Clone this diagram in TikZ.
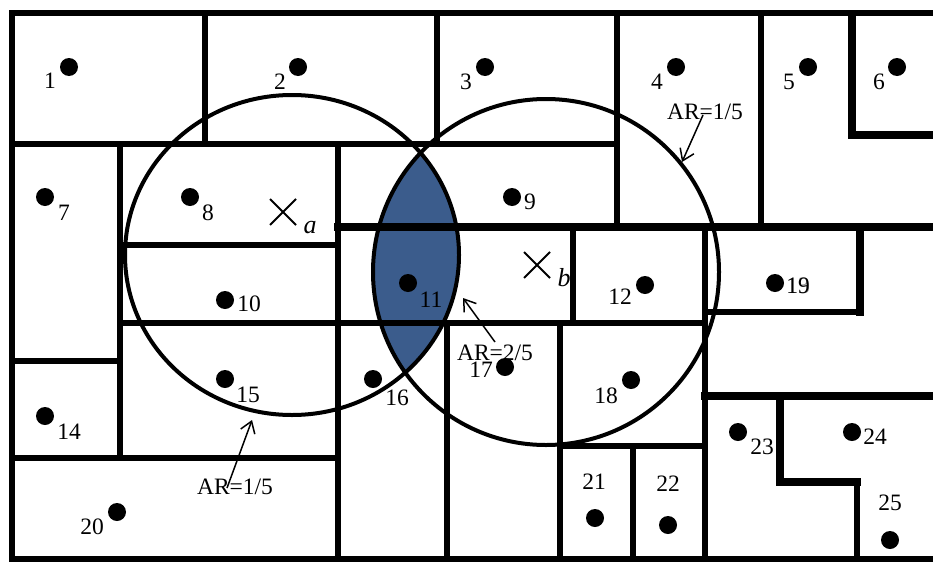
\documentclass[tikz,border=0pt]{standalone}
\usepackage{fontspec}
\setmainfont{Liberation Serif}
\usetikzlibrary{arrows.meta, shapes.misc}
\definecolor{lensblue}{RGB}{59,92,140}

\begin{document}
\begin{tikzpicture}[
        x=1pt, y=-1pt,
        wall/.style={line width=5.5pt, line cap=rect},
        heavywall/.style={line width=8pt, line cap=rect},
        rangeline/.style={line width=4pt},
        site/.style={circle, fill=black, inner sep=0pt, minimum size=18pt},
        num/.style={inner sep=0pt, font=\fontsize{23.5}{25}\selectfont},
        centremark/.style={cross out, draw, line width=2pt, minimum size=24pt, inner sep=0pt},
        arrow/.style={-{Straight Barb[length=11pt, width=15pt]}, line width=1.5pt}
    ]
        \useasboundingbox (0,0) rectangle (933,562);

        % Overlap of the two ranges
        \begin{scope}
            \clip (292,255) ellipse [x radius=167pt, y radius=160pt];
            \fill[lensblue] (546,272) circle [radius=173pt];
        \end{scope}

        % Walls
        \draw[wall] (933,13) -- (12,13) -- (12,559) -- (933,559);
        \draw[wall] (12,144) -- (617,144);
        \draw[wall] (205,13) -- (205,144) (437,13) -- (437,144);
        \draw[wall] (617,13) -- (617,227) (761,13) -- (761,227);
        \draw[heavywall] (852,17) -- (852,135) -- (933,135);
        \draw[heavywall] (338,227) -- (933,227);
        \draw[wall] (120,144) -- (120,458) (338,144) -- (338,559);
        \draw[wall] (120,245) -- (338,245);
        \draw[wall] (12,361) -- (120,361) (12,458) -- (338,458);
        \draw[wall, line width=6.5pt] (120,323) -- (705,323);
        \draw[wall] (573,227) -- (573,323);
        \draw[wall] (705,227) -- (705,559);
        \draw[wall] (705,312) -- (860,312);
        \draw[heavywall] (860,227) -- (860,312);
        \draw[wall] (447,323) -- (447,559) (560,323) -- (560,559);
        \draw[wall] (560,446) -- (705,446) (633,446) -- (633,559);
        \draw[heavywall] (705,396) -- (933,396);
        \draw[heavywall] (780,396) -- (780,482) -- (857,482);
        \draw[wall] (857,482) -- (857,559);

        % Ranges
        \draw[rangeline] (292,255) ellipse [x radius=167pt, y radius=160pt];
        \draw[rangeline] (546,272) circle [radius=173pt];

        % Centres
        \node[centremark] (ca) at (283,212) {};
        \node[num, font=\fontsize{26}{28}\selectfont\itshape] (la) at (310,228) {a};
        \node[centremark] (cb) at (537,265) {};
        \node[num, font=\fontsize{26}{28}\selectfont\itshape] (lb) at (564,278) {b};

        % Sites
        \node[site] (p1) at (69,67) {};   \node[num] (t1) at (50,81) {1};
        \node[site] (p2) at (298,67) {};  \node[num] (t2) at (280,82) {2};
        \node[site] (p3) at (485,67) {};  \node[num] (t3) at (466,82) {3};
        \node[site] (p4) at (676,67) {};  \node[num] (t4) at (657,82) {4};
        \node[site] (p5) at (808,67) {};  \node[num] (t5) at (789,82) {5};
        \node[site] (p6) at (897,67) {};  \node[num] (t6) at (879,82) {6};
        \node[site] (p7) at (45,197) {};  \node[num] (t7) at (64,213) {7};
        \node[site] (p8) at (190,197) {}; \node[num] (t8) at (208,213) {8};
        \node[site] (p9) at (512,197) {}; \node[num] (t9) at (530,202) {9};
        \node[site] (p10) at (225,300) {}; \node[num] (t10) at (249,304) {10};
        \node[site] (p11) at (408,283) {}; \node[num] (t11) at (431,300) {11};
        \node[site] (p12) at (645,285) {}; \node[num] (t12) at (620,297) {12};
        \node[site] (p13) at (775,283) {};
        \node[num, text=black!45] (t13) at (798,286) {13};
        \node[num] (t19) at (798,286) {19};
        \node[site] (p14) at (45,416) {}; \node[num] (t14) at (69,432) {14};
        \node[site] (p15) at (225,379) {}; \node[num] (t15) at (248,395) {15};
        \node[site] (p16) at (373,379) {}; \node[num] (t16) at (397,398) {16};
        \node[site] (p17) at (505,367) {}; \node[num] (t17) at (481,370) {17};
        \node[site] (p18) at (631,380) {}; \node[num] (t18) at (606,396) {18};
        \node[site] (p20) at (117,512) {}; \node[num] (t20) at (92,527) {20};
        \node[site] (p21) at (595,518) {}; \node[num] (t21) at (594,482) {21};
        \node[site] (p22) at (668,525) {}; \node[num] (t22) at (668,484) {22};
        \node[site] (p23) at (738,432) {}; \node[num] (t23) at (762,447) {23};
        \node[site] (p24) at (852,432) {}; \node[num] (t24) at (875,437) {24};
        \node[site] (p25) at (890,540) {}; \node[num] (t25) at (890,503) {25};

        % Ratio annotations
        \node[num] (ar1) at (705,112) {AR=1/5};
        \coordinate (ar1tip) at (682,162);
        \draw[arrow] ([xshift=-2pt, yshift=-3pt]ar1.center) -- (ar1tip);
        \node[num] (ar2) at (495,353) {AR=2/5};
        \coordinate (ar2tip) at (463,298);
        \draw[arrow] ([yshift=11pt]ar2.center) -- (ar2tip);
        \node[num] (ar3) at (235,487) {AR=1/5};
        \coordinate (ar3tip) at (252,420);
        \draw[arrow] ([xshift=-8pt, yshift=-1pt]ar3.center) -- (ar3tip);
    \end{tikzpicture}
\end{document}
